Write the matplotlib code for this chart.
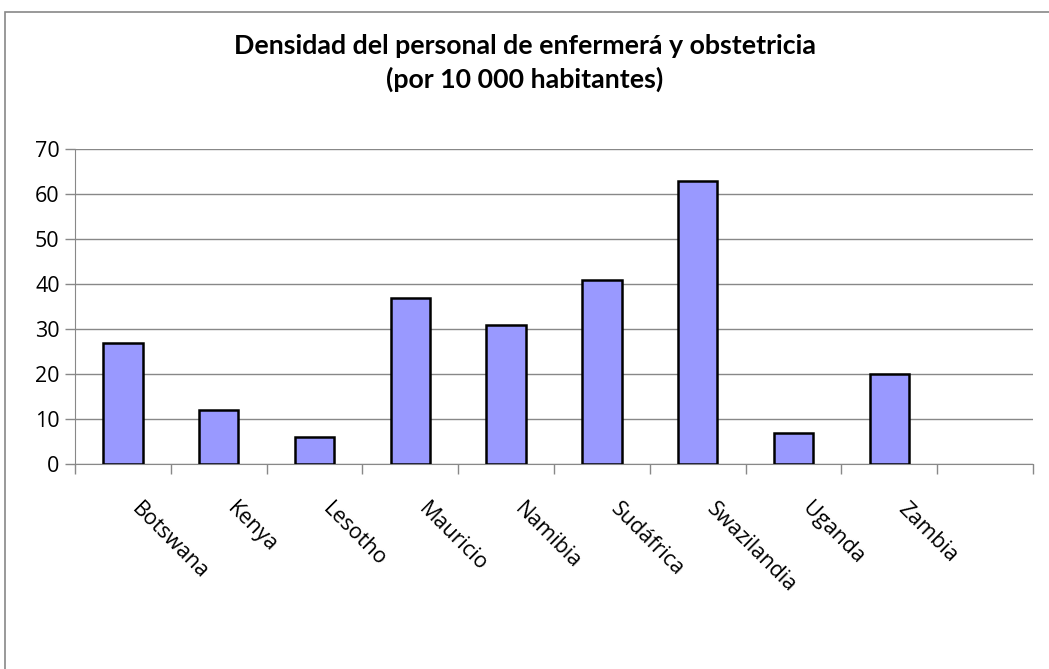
import matplotlib
matplotlib.use("Agg")
import matplotlib.pyplot as plt
from matplotlib.patches import Rectangle

categories = ["Botswana", "Kenya", "Lesotho", "Mauricio", "Namibia",
              "Sudáfrica", "Swazilandia", "Uganda", "Zambia"]
values = [27, 12, 6, 37, 31, 41, 63, 7, 20]
yticks = [0, 10, 20, 30, 40, 50, 60, 70]
title = "Densidad del personal de enfermerá y obstetricia\n(por 10 000 habitantes)"

plt.rcParams['font.family'] = ['Open Sans', 'DejaVu Sans']

fig = plt.figure(figsize=(10.49, 6.69), dpi=100)
fig.patches.append(Rectangle((5/1049, -0.1), 1.2, 1 - 12/669 + 0.1,
                             transform=fig.transFigure, fill=False,
                             edgecolor='#888888', linewidth=1.2))

ax = fig.add_axes([75/1049, 1 - 464/669, (1033-75)/1049, (464-149)/669])
n_slots = 10
x = [i + 0.5 for i in range(len(categories))]
ax.bar(x, values, width=0.41, color='#9999ff', edgecolor='black', linewidth=1.8, zorder=3)
ax.set_xlim(0, n_slots)
ax.set_ylim(0, 70)
ax.set_yticks(yticks)
ax.set_yticklabels([str(v) for v in yticks], fontsize=15.5)
ax.yaxis.grid(True, color='#888888', linewidth=1)
ax.set_axisbelow(True)
ax.set_xticks(range(n_slots + 1))
ax.set_xticklabels([])
ax.tick_params(axis='x', length=7, color='#888888', width=1)
ax.tick_params(axis='y', length=7, color='#888888', width=1, pad=4)
for s in ['top', 'right']:
    ax.spines[s].set_visible(False)
for s in ['left', 'bottom']:
    ax.spines[s].set_color('#888888')
for xi, lab in zip(x, categories):
    ax.text(xi + 0.2, -7.6, lab, rotation=-45, ha='left', va='top',
            rotation_mode='anchor', fontsize=15.5)

fig.text(0.5, 1 - 63/669, title, ha='center', va='center', fontsize=19.3,
         fontweight='bold', linespacing=1.42, family=['Lato', 'DejaVu Sans'])

fig.savefig("out.png", dpi=100)
